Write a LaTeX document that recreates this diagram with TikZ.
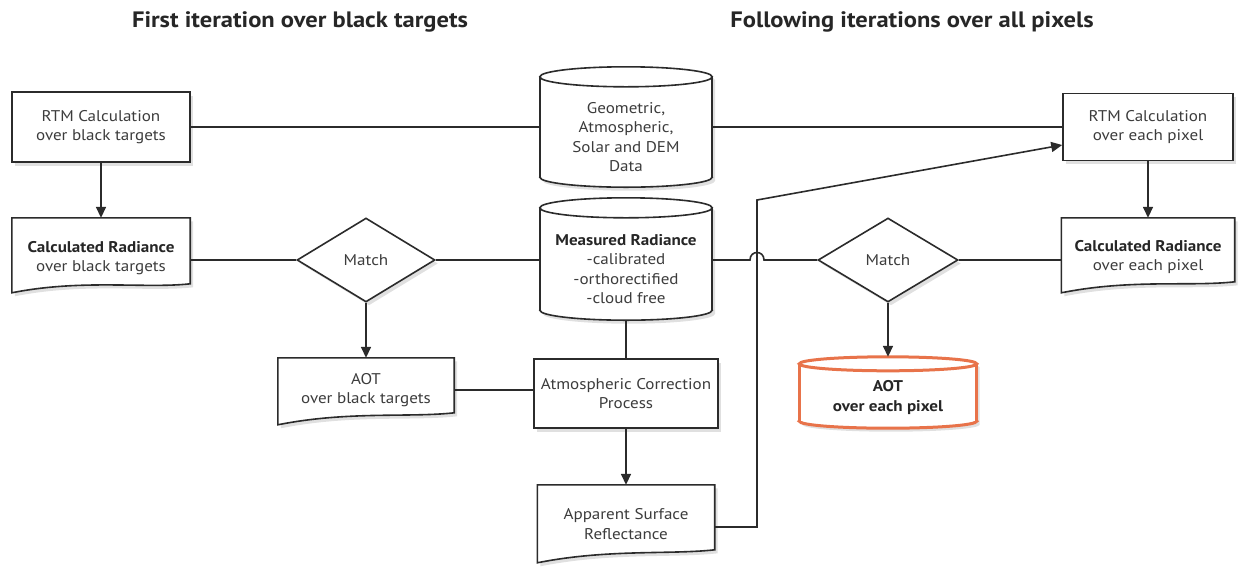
\documentclass[tikz,border=0pt]{standalone}
\usepackage{fontspec}
\setmainfont{PT Sans}[FakeStretch=1.1]
\usetikzlibrary{shapes.geometric,arrows.meta,calc}
\definecolor{ln}{HTML}{2B2B2B}
\definecolor{tx}{HTML}{3C3C3C}
\definecolor{org}{HTML}{E8734A}
\tikzset{shad/.style={preaction={fill=black, opacity=.12, transform canvas={xshift=3pt,yshift=-3.5pt}}}}
% cylinder outline around a node: name, ellipse half-height, style
\newcommand\cylout[3]{%
  \begin{scope}[transparency group, opacity=.12, transform canvas={xshift=3pt,yshift=-3.5pt}]
  \path let \p1=(#1.west), \p2=(#1.east), \n1={(\x2-\x1)/2} in
    [fill=black] ([yshift=#2]#1.south) ellipse [x radius=\n1, y radius=#2]
    ([yshift=-#2]#1.north) ellipse [x radius=\n1, y radius=#2];
  \fill[black] ([yshift=-#2]#1.north west) rectangle ([yshift=#2]#1.south east);
  \end{scope}
  \path let \p1=(#1.west), \p2=(#1.east), \n1={(\x2-\x1)/2} in
    [draw=ln, line width=1.6pt, fill=white, #3]
    ([yshift=#2]#1.south) ellipse [x radius=\n1, y radius=#2];
  \fill[white] ([yshift=-#2,xshift=1pt]#1.north west) rectangle ([yshift=#2,xshift=-1pt]#1.south east);
  \draw[line width=1.6pt, draw=ln, #3] ([yshift=-#2]#1.north west) -- ([yshift=#2]#1.south west)
     ([yshift=-#2]#1.north east) -- ([yshift=#2]#1.south east);
  \path let \p1=(#1.west), \p2=(#1.east), \n1={(\x2-\x1)/2} in
    [draw=ln, line width=1.6pt, fill=white, #3]
    ([yshift=-#2]#1.north) ellipse [x radius=\n1, y radius=#2];
}
% document outline: name, left height, right height
\newcommand\docout[3]{%
  \draw[line width=1.6pt, draw=ln, fill=white, shad]
    (#1.north west) -- (#1.north east) -- ([yshift=-#3]#1.north east)
    .. controls +(-45pt,-5pt) and +(70pt,14pt) .. ([yshift=-#2]#1.north west) -- cycle;
}
\begin{document}
\begin{tikzpicture}[x=1pt,y=-1pt,
  every node/.style={font=\fontsize{15.5}{19.5}\selectfont, text=tx, align=center, inner sep=0pt},
  conn/.style={draw=ln, line width=1.6pt},
  arr/.style={conn, -{Triangle[length=11pt,width=10pt]}},
  boxn/.style={draw=ln, line width=1.6pt, fill=white, rectangle, shad},
  plain/.style={rectangle},
  dia/.style={draw=ln, line width=1.6pt, fill=white, diamond, aspect=1.65, shad},
  ttl/.style={font=\fontsize{22.3}{25}\bfseries, text=black!85}
]
\useasboundingbox (0,0) rectangle (1239,566);

\node[ttl] (t1) at (300,22) {First iteration over black targets};
\node[ttl] (t2) at (912,22) {Following iterations over all pixels};

% left column
\node[boxn, minimum width=178pt, minimum height=70pt] (rtmL) at (101,127) {RTM Calculation\\over black targets};
\node[plain, minimum width=178pt, minimum height=80pt] (calcL) at (101,258) {};
\docout{calcL}{75pt}{66pt}
\node at (calcL.center) {\textbf{\color{black!85}Calculated Radiance}\\over black targets};

\node[dia, minimum width=138pt, minimum height=84pt] (matchL) at (366,260) {Match};

\node[plain, minimum width=176pt, minimum height=64pt] (aotL) at (366,390) {};
\docout{aotL}{67pt}{55pt}
\node at (aotL.center) {AOT\\over black targets};

% middle column
\node[plain, minimum width=172pt, minimum height=120pt] (geo) at (626,127) {};
\cylout{geo}{10pt}{}
\node at ([yshift=-10pt]geo.center) {Geometric,\\Atmospheric,\\Solar and DEM\\Data};

\node[plain, minimum width=172pt, minimum height=122pt] (meas) at (626,259) {};
\cylout{meas}{10pt}{}
\node at ([yshift=-10pt]meas.center) {\textbf{\color{black!85}Measured Radiance}\\-calibrated\\-orthorectified\\-cloud free};

\node[boxn, minimum width=184pt, minimum height=69pt] (atm) at (626,393.5) {Atmospheric Correction\\Process};

\node[plain, minimum width=177pt, minimum height=78pt] (app) at (626,524) {};
\docout{app}{78pt}{65pt}
\node at (app.center) {Apparent Surface\\Reflectance};

% right column
\node[boxn, minimum width=170pt, minimum height=67pt] (rtmR) at (1148,127) {RTM Calculation\\over each pixel};
\node[plain, minimum width=173pt, minimum height=78pt] (calcR) at (1148,257) {};
\docout{calcR}{75pt}{64pt}
\node at (calcR.center) {\textbf{\color{black!85}Calculated Radiance}\\over each pixel};

\node[dia, minimum width=140pt, minimum height=84pt] (matchR) at (888,260) {Match};

\node[plain, minimum width=177pt, minimum height=71pt] (aotR) at (888,392.5) {};
\cylout{aotR}{7pt}{draw=org, line width=3pt}
\node[font=\fontsize{15.5}{19.5}\selectfont\bfseries, text=black!85] at ([yshift=-5pt]aotR.center) {AOT\\over each pixel};

% connectors
\draw[conn] (rtmL.east) -- (geo.west);
\draw[conn] (geo.east) -- (rtmR.west);
\draw[arr] (rtmL.south) -- (calcL.north);
\draw[arr] (rtmR.south) -- (calcR.north);
\draw[conn] (matchL.west -| calcL.east) -- (matchL.west);
\draw[conn] (matchL.east) -- (matchL.east -| meas.west);
\draw[arr] (matchL.south) -- (aotL.north);
\draw[conn] (aotL.east) -- (aotL.east -| atm.west);
\draw[conn] (meas.south) -- (atm.north);
\draw[arr] (atm.south) -- (app.north);
\coordinate (bend) at (757,200);
\coordinate (hopA) at (750,260);
\coordinate (hopB) at (764,260);
\draw[arr] ([yshift=-3pt]app.east) -| (bend) -- ([yshift=-18pt]rtmR.west);
\draw[conn] (meas.east |- matchR.west) -- (hopA) .. controls +(0pt,10pt) and +(0pt,10pt) .. (hopB) -- (matchR.west);
\draw[conn] (matchR.east) -- (matchR.east -| calcR.west);
\draw[arr] (matchR.south) -- (aotR.north);
\end{tikzpicture}
\end{document}
